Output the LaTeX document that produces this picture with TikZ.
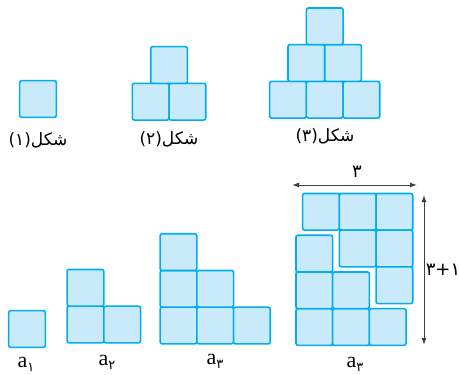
\documentclass[tikz,border=0pt]{standalone}
\usepackage{fontspec}
\usepackage{xcolor}
\usepackage{tikz}
\usetikzlibrary{arrows.meta, positioning}
\setmainfont{Liberation Serif}
\newfontfamily\arabicfont[Script=Arabic]{DejaVu Sans}
\TeXXeTstate=1
\definecolor{cellblue}{RGB}{0, 174, 239}
\definecolor{cellfill}{RGB}{200, 234, 250}
\definecolor{arrowgray}{RGB}{64, 64, 64}
\newcommand{\seqa}[1]{a\raisebox{-4pt}{\arabicfont\fontsize{13}{15}\selectfont #1}}

\begin{document}
\begin{tikzpicture}[
    x=1pt, y=-1pt,
    cell/.style={draw=cellblue, fill=cellfill, line width=1.6pt, rounded corners=2pt,
                 minimum size=36.7pt, inner sep=0pt, outer sep=0pt},
    caption/.style={font=\arabicfont\fontsize{17}{20}\selectfont, inner sep=0pt},
    seq/.style={font=\fontsize{22}{24}\selectfont, inner sep=0pt},
    num/.style={font=\arabicfont\fontsize{18}{20}\selectfont, inner sep=0pt},
    dim/.style={{Latex[length=7pt,width=5pt]}-{Latex[length=7pt,width=5pt]},
                line width=1pt, arrowgray}
]
    \useasboundingbox (0,0) rectangle (459,375);

    % top row: the three pyramids
    \node[cell] (f1) at (38,99) {};
    \node[caption] (cap1) at (38,140) {(۱)\beginR شکل\endR};

    \node[cell] (f2a) at (150.7,101.7) {};
    \node[cell, right=0pt of f2a] (f2b) {};
    \node[cell, anchor=south] (f2c) at (f2a.north east) {};
    \node[caption] (cap2) at (169,139) {(۲)\beginR شکل\endR};

    \node[cell] (f3a) at (288,99.7) {};
    \node[cell, right=0pt of f3a] (f3b) {};
    \node[cell, right=0pt of f3b] (f3c) {};
    \node[cell, anchor=south] (f3d) at (f3a.north east) {};
    \node[cell, right=0pt of f3d] (f3e) {};
    \node[cell, anchor=south] (f3f) at (f3d.north east) {};
    \node[caption] (cap3) at (325,136) {(۳)\beginR شکل\endR};

    % bottom row: the staircases
    \node[cell] (a1) at (27,329) {};
    \node[seq] (lab1) at (26,364) {\seqa{۱}};

    \node[cell] (a2a) at (85.5,324.5) {};
    \node[cell, right=0pt of a2a] (a2b) {};
    \node[cell, above=0pt of a2a] (a2c) {};
    \node[seq] (lab2) at (107,362) {\seqa{۲}};

    \node[cell] (a3a) at (178.5,325.5) {};
    \node[cell, right=0pt of a3a] (a3b) {};
    \node[cell, right=0pt of a3b] (a3c) {};
    \node[cell, above=0pt of a3a] (a3d) {};
    \node[cell, right=0pt of a3d] (a3e) {};
    \node[cell, above=0pt of a3d] (a3f) {};
    \node[seq] (lab3) at (215,361) {\seqa{۳}};

    % two staircases put together
    \node[cell] (l1a) at (314.3,327) {};
    \node[cell, right=0pt of l1a] (l1b) {};
    \node[cell, right=0pt of l1b] (l1c) {};
    \node[cell, above=0pt of l1a] (l2a) {};
    \node[cell, right=0pt of l2a] (l2b) {};
    \node[cell, above=0pt of l2a] (l3a) {};

    \node[cell] (r1a) at (321,211.8) {};
    \node[cell, right=0pt of r1a] (r1b) {};
    \node[cell, right=0pt of r1b] (r1c) {};
    \node[cell, below=0pt of r1b] (r2a) {};
    \node[cell, right=0pt of r2a] (r2b) {};
    \node[cell, below=0pt of r2b] (r3a) {};
    \node[seq] (lab4) at (355,364) {\seqa{۳}};

    \coordinate (wl) at (292,185);
    \coordinate (wr) at (417,185);
    \coordinate (ht) at (424,195);
    \coordinate (hb) at (424,345);
    \draw[dim] (wl) -- (wr);
    \draw[dim] (ht) -- (hb);
    \node[num] (wlab) at (357,172) {۳};
    \node[num] (hlab) at (443,270) {۳+۱};
\end{tikzpicture}
\end{document}
